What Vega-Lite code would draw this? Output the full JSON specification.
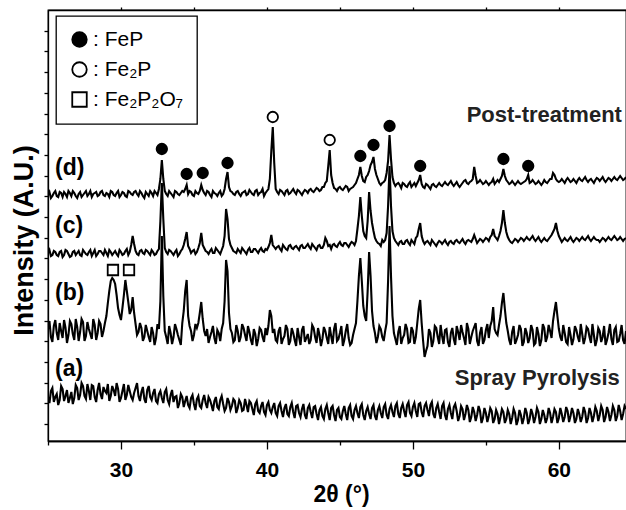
{
  "$schema": "https://vega.github.io/schema/vega-lite/v6.json",
  "width": 578,
  "height": 431,
  "autosize": {"type": "none"},
  "padding": {"left": 48, "top": 10, "right": 0, "bottom": 69},
  "background": "white",
  "config": {
    "view": {"stroke": "black", "strokeWidth": 1.3},
    "font": "Liberation Sans",
    "axis": {"grid": false, "domainColor": "black", "tickColor": "black", "labelColor": "black", "titleColor": "black", "domainWidth": 1.3, "tickWidth": 1.3, "labelFont": "Liberation Sans", "titleFont": "Liberation Sans"},
    "legend": {"strokeWidth": 1.3}
  },
  "encoding": {
    "y": {"field": "v", "type": "quantitative", "scale": {"domain": [0, 431], "nice": false, "zero": false},
      "axis": {"orient": "left", "values": [17, 37.7, 58.4, 79.1, 99.8, 120.5, 141.2, 161.9, 182.6, 203.3, 224, 244.7, 265.4, 286.1, 306.8, 327.5, 348.2, 368.9, 389.6, 410.3], "labels": false, "tickSize": 4, "title": "Intensity (A.U.)", "titleFontSize": 27, "titleFontWeight": "bold", "titlePadding": 5, "titleY": 230}}
  },
  "layer": [
    {
      "data": {"values": [
{"x":25.0,"a":44,"b":112,"c":188,"d":246},{"x":25.2,"a":50,"b":104,"c":185,"d":243},{"x":25.4,"a":39,"b":115,"c":190,"d":248},{"x":25.6,"a":47,"b":108,"c":186,"d":245},{"x":25.8,"a":41,"b":118,"c":189,"d":249},
{"x":26.0,"a":52,"b":103,"c":184,"d":244},{"x":26.2,"a":45,"b":113,"c":191,"d":247},{"x":26.4,"a":38,"b":106,"c":187,"d":250},{"x":26.6,"a":49,"b":117,"c":185,"d":245},{"x":26.8,"a":43,"b":101,"c":190,"d":248},
{"x":27.0,"a":53,"b":114,"c":188,"d":243},{"x":27.2,"a":46,"b":109,"c":186,"d":249},{"x":27.4,"a":55,"b":119,"c":191,"d":246},{"x":27.6,"a":42,"b":105,"c":187,"d":250},{"x":27.8,"a":50,"b":112,"c":189,"d":247},
{"x":28.0,"a":56,"b":102,"c":185,"d":244},{"x":28.2,"a":44,"b":116,"c":191,"d":248},{"x":28.4,"a":51,"b":108,"c":187,"d":245},{"x":28.6,"a":47,"b":117,"c":190,"d":249},{"x":28.8,"a":54,"b":110,"c":186,"d":246},
{"x":29.0,"a":48,"b":125,"c":188,"d":248},{"x":29.2,"a":40,"b":150,"c":191,"d":244},{"x":29.4,"a":55,"b":163,"c":186,"d":249},{"x":29.6,"a":45,"b":157,"c":190,"d":245},{"x":29.8,"a":52,"b":133,"c":185,"d":250},
{"x":30.0,"a":43,"b":121,"c":189,"d":246},{"x":30.2,"a":57,"b":146,"c":187,"d":248},{"x":30.3,"a":41,"b":161,"c":190,"d":245},{"x":30.4,"a":46,"b":150,"c":192,"d":244},{"x":30.6,"a":50,"b":127,"c":189,"d":249},{"x":30.8,"a":41,"b":144,"c":205,"d":246},
{"x":31.0,"a":53,"b":117,"c":190,"d":250},{"x":31.2,"a":45,"b":109,"c":186,"d":245},{"x":31.4,"a":49,"b":113,"c":191,"d":248},{"x":31.6,"a":42,"b":104,"c":187,"d":243},{"x":31.8,"a":51,"b":110,"c":190,"d":247},
{"x":32.0,"a":44,"b":99,"c":186,"d":250},{"x":32.2,"a":48,"b":108,"c":189,"d":245},{"x":32.4,"a":40,"b":103,"c":187,"d":248},{"x":32.6,"a":47,"b":112,"c":192,"d":252},{"x":32.8,"a":43,"b":205,"c":258,"d":281},
{"x":33.0,"a":49,"b":110,"c":193,"d":250},{"x":33.2,"a":41,"b":97,"c":187,"d":245},{"x":33.4,"a":46,"b":108,"c":190,"d":248},{"x":33.6,"a":39,"b":104,"c":186,"d":244},{"x":33.8,"a":45,"b":112,"c":191,"d":249},
{"x":34.0,"a":38,"b":101,"c":187,"d":246},{"x":34.2,"a":44,"b":118,"c":192,"d":250},{"x":34.4,"a":40,"b":150,"c":202,"d":252},{"x":34.5,"a":45,"b":161,"c":209,"d":256},{"x":34.6,"a":36,"b":125,"c":195,"d":247},{"x":34.8,"a":43,"b":110,"c":188,"d":249},
{"x":35.0,"a":37,"b":106,"c":191,"d":245},{"x":35.2,"a":42,"b":113,"c":189,"d":248},{"x":35.4,"a":35,"b":128,"c":198,"d":250},{"x":35.5,"a":33,"b":139,"c":208,"d":256},{"x":35.6,"a":41,"b":122,"c":196,"d":251},{"x":35.8,"a":38,"b":105,"c":190,"d":246},
{"x":36.0,"a":44,"b":98,"c":187,"d":249},{"x":36.2,"a":36,"b":109,"c":192,"d":244},{"x":36.4,"a":40,"b":103,"c":188,"d":248},{"x":36.6,"a":34,"b":111,"c":191,"d":245},{"x":36.8,"a":41,"b":100,"c":187,"d":250},
{"x":37.0,"a":37,"b":118,"c":195,"d":247},{"x":37.2,"a":33,"b":181,"c":232,"d":262},{"x":37.3,"a":43,"b":170,"c":222,"d":269},{"x":37.4,"a":39,"b":128,"c":202,"d":254},{"x":37.6,"a":35,"b":108,"c":193,"d":249},{"x":37.8,"a":40,"b":101,"c":189,"d":246},
{"x":38.0,"a":33,"b":110,"c":192,"d":250},{"x":38.2,"a":38,"b":104,"c":188,"d":245},{"x":38.4,"a":31,"b":113,"c":191,"d":249},{"x":38.6,"a":36,"b":100,"c":187,"d":246},{"x":38.8,"a":40,"b":109,"c":193,"d":251},
{"x":39.0,"a":32,"b":96,"c":189,"d":247},{"x":39.2,"a":37,"b":107,"c":192,"d":250},{"x":39.4,"a":30,"b":102,"c":188,"d":246},{"x":39.6,"a":35,"b":111,"c":193,"d":249},{"x":39.8,"a":29,"b":99,"c":189,"d":245},
{"x":40.0,"a":36,"b":106,"c":191,"d":250},{"x":40.2,"a":31,"b":131,"c":198,"d":262},{"x":40.3,"a":28,"b":125,"c":206,"d":290},{"x":40.4,"a":34,"b":108,"c":196,"d":314},{"x":40.5,"a":38,"b":112,"c":194,"d":278},{"x":40.6,"a":28,"b":101,"c":192,"d":252},{"x":40.8,"a":35,"b":110,"c":195,"d":247},
{"x":41.0,"a":30,"b":97,"c":190,"d":250},{"x":41.2,"a":33,"b":105,"c":194,"d":246},{"x":41.4,"a":27,"b":112,"c":191,"d":251},{"x":41.6,"a":34,"b":100,"c":196,"d":248},{"x":41.8,"a":29,"b":108,"c":192,"d":252},
{"x":42.0,"a":35,"b":95,"c":195,"d":247},{"x":42.2,"a":28,"b":104,"c":191,"d":250},{"x":42.4,"a":32,"b":111,"c":196,"d":246},{"x":42.6,"a":26,"b":99,"c":193,"d":251},{"x":42.8,"a":33,"b":107,"c":197,"d":248},
{"x":43.0,"a":29,"b":101,"c":192,"d":252},{"x":43.2,"a":34,"b":113,"c":195,"d":249},{"x":43.4,"a":27,"b":98,"c":191,"d":253},{"x":43.6,"a":31,"b":106,"c":196,"d":250},{"x":43.8,"a":25,"b":102,"c":193,"d":254},
{"x":44.0,"a":32,"b":110,"c":203,"d":258},{"x":44.2,"a":28,"b":97,"c":195,"d":275},{"x":44.3,"a":21,"b":114,"c":196,"d":291},{"x":44.4,"a":33,"b":105,"c":192,"d":266},{"x":44.6,"a":26,"b":112,"c":197,"d":253},{"x":44.8,"a":31,"b":100,"c":194,"d":250},
{"x":45.0,"a":24,"b":108,"c":199,"d":254},{"x":45.2,"a":30,"b":95,"c":195,"d":251},{"x":45.4,"a":27,"b":110,"c":198,"d":255},{"x":45.6,"a":33,"b":103,"c":194,"d":250},{"x":45.8,"a":25,"b":98,"c":199,"d":253},
{"x":46.0,"a":31,"b":112,"c":196,"d":256},{"x":46.2,"a":28,"b":140,"c":212,"d":262},{"x":46.4,"a":34,"b":183,"c":244,"d":274},{"x":46.6,"a":26,"b":135,"c":210,"d":260},{"x":46.8,"a":30,"b":120,"c":203,"d":264},
{"x":47.0,"a":27,"b":189,"c":249,"d":270},{"x":47.2,"a":33,"b":130,"c":218,"d":279},{"x":47.3,"a":36,"b":115,"c":210,"d":284},{"x":47.4,"a":25,"b":108,"c":203,"d":272},{"x":47.6,"a":31,"b":104,"c":198,"d":262},{"x":47.8,"a":28,"b":112,"c":195,"d":256},
{"x":48.0,"a":34,"b":100,"c":199,"d":259},{"x":48.2,"a":26,"b":118,"c":208,"d":268},{"x":48.4,"a":32,"b":215,"c":275,"d":306},{"x":48.6,"a":29,"b":125,"c":210,"d":264},{"x":48.8,"a":35,"b":102,"c":200,"d":255},
{"x":49.0,"a":27,"b":109,"c":196,"d":258},{"x":49.2,"a":33,"b":97,"c":200,"d":253},{"x":49.4,"a":30,"b":106,"c":197,"d":257},{"x":49.6,"a":36,"b":112,"c":201,"d":254},{"x":49.8,"a":28,"b":99,"c":196,"d":259},
{"x":50.0,"a":34,"b":110,"c":199,"d":256},{"x":50.2,"a":30,"b":104,"c":203,"d":255},{"x":50.4,"a":37,"b":132,"c":212,"d":261},{"x":50.5,"a":38,"b":141,"c":218,"d":266},{"x":50.6,"a":29,"b":118,"c":205,"d":257},{"x":50.8,"a":35,"b":84,"c":197,"d":253},
{"x":51.0,"a":31,"b":95,"c":200,"d":256},{"x":51.2,"a":36,"b":108,"c":196,"d":252},{"x":51.4,"a":27,"b":100,"c":199,"d":257},{"x":51.6,"a":33,"b":113,"c":195,"d":254},{"x":51.8,"a":29,"b":97,"c":200,"d":258},
{"x":52.0,"a":35,"b":105,"c":197,"d":255},{"x":52.2,"a":26,"b":111,"c":201,"d":259},{"x":52.4,"a":32,"b":99,"c":196,"d":256},{"x":52.6,"a":28,"b":108,"c":200,"d":260},{"x":52.8,"a":34,"b":102,"c":197,"d":255},
{"x":53.0,"a":30,"b":115,"c":201,"d":259},{"x":53.2,"a":25,"b":101,"c":198,"d":254},{"x":53.4,"a":32,"b":109,"c":202,"d":258},{"x":53.6,"a":27,"b":96,"c":197,"d":261},{"x":53.8,"a":31,"b":112,"c":201,"d":257},
{"x":54.0,"a":24,"b":104,"c":199,"d":260},{"x":54.2,"a":29,"b":114,"c":206,"d":274},{"x":54.4,"a":26,"b":100,"c":198,"d":258},{"x":54.6,"a":30,"b":108,"c":202,"d":261},{"x":54.8,"a":23,"b":97,"c":199,"d":257},
{"x":55.0,"a":28,"b":111,"c":203,"d":260},{"x":55.2,"a":25,"b":103,"c":200,"d":256},{"x":55.4,"a":30,"b":120,"c":206,"d":259},{"x":55.5,"a":18,"b":134,"c":212,"d":262},{"x":55.6,"a":22,"b":112,"c":205,"d":257},{"x":55.8,"a":27,"b":106,"c":201,"d":261},
{"x":56.0,"a":24,"b":125,"c":210,"d":262},{"x":56.2,"a":29,"b":148,"c":231,"d":272},{"x":56.4,"a":22,"b":118,"c":209,"d":261},{"x":56.6,"a":27,"b":101,"c":201,"d":257},{"x":56.8,"a":23,"b":109,"c":198,"d":260},
{"x":57.0,"a":28,"b":97,"c":202,"d":256},{"x":57.2,"a":21,"b":106,"c":199,"d":260},{"x":57.4,"a":26,"b":112,"c":203,"d":257},{"x":57.6,"a":23,"b":99,"c":200,"d":259},{"x":57.8,"a":28,"b":108,"c":204,"d":262},{"x":57.9,"a":17,"b":98,"c":202,"d":266},
{"x":58.0,"a":22,"b":103,"c":201,"d":258},{"x":58.2,"a":27,"b":111,"c":205,"d":261},{"x":58.4,"a":24,"b":98,"c":200,"d":257},{"x":58.6,"a":29,"b":107,"c":204,"d":260},{"x":58.8,"a":22,"b":101,"c":199,"d":256},
{"x":59.0,"a":26,"b":113,"c":203,"d":261},{"x":59.2,"a":23,"b":104,"c":200,"d":258},{"x":59.4,"a":28,"b":110,"c":204,"d":262},{"x":59.6,"a":24,"b":120,"c":209,"d":268},{"x":59.8,"a":29,"b":139,"c":218,"d":262},
{"x":60.0,"a":23,"b":112,"c":205,"d":259},{"x":60.2,"a":27,"b":100,"c":199,"d":262},{"x":60.4,"a":24,"b":108,"c":203,"d":258},{"x":60.6,"a":30,"b":97,"c":200,"d":263},{"x":60.8,"a":25,"b":106,"c":204,"d":259},
{"x":61.0,"a":28,"b":102,"c":199,"d":262},{"x":61.2,"a":22,"b":111,"c":203,"d":258},{"x":61.4,"a":27,"b":99,"c":200,"d":263},{"x":61.6,"a":24,"b":107,"c":204,"d":260},{"x":61.8,"a":29,"b":103,"c":201,"d":264},
{"x":62.0,"a":23,"b":112,"c":205,"d":259},{"x":62.2,"a":28,"b":98,"c":200,"d":262},{"x":62.4,"a":25,"b":106,"c":204,"d":258},{"x":62.6,"a":30,"b":101,"c":201,"d":263},{"x":62.8,"a":26,"b":110,"c":199,"d":260},
{"x":63.0,"a":31,"b":104,"c":203,"d":264},{"x":63.2,"a":24,"b":96,"c":200,"d":259},{"x":63.4,"a":29,"b":108,"c":204,"d":263},{"x":63.6,"a":26,"b":102,"c":201,"d":260},{"x":63.8,"a":31,"b":111,"c":205,"d":264},
{"x":64.0,"a":25,"b":99,"c":201,"d":261},{"x":64.2,"a":30,"b":107,"c":204,"d":265},{"x":64.4,"a":27,"b":101,"c":200,"d":261},{"x":64.6,"a":32,"b":110,"c":203,"d":264},
{"x":25.1,"a":38,"b":120,"c":191,"d":249},{"x":25.3,"a":53,"b":99,"c":186,"d":245},{"x":25.5,"a":44,"b":121,"c":189,"d":250},{"x":25.7,"a":36,"b":101,"c":185,"d":244},{"x":25.9,"a":55,"b":110,"c":190,"d":248},
{"x":26.1,"a":40,"b":121,"c":186,"d":249},{"x":26.3,"a":51,"b":98,"c":190,"d":244},{"x":26.5,"a":43,"b":120,"c":184,"d":248},{"x":26.7,"a":37,"b":107,"c":189,"d":250},{"x":26.9,"a":56,"b":122,"c":186,"d":245},
{"x":27.1,"a":41,"b":100,"c":190,"d":247},{"x":27.3,"a":58,"b":122,"c":185,"d":244},{"x":27.5,"a":45,"b":100,"c":189,"d":248},{"x":27.7,"a":57,"b":119,"c":186,"d":245},{"x":27.9,"a":41,"b":107,"c":191,"d":250},
{"x":28.1,"a":55,"b":122,"c":188,"d":247},{"x":28.3,"a":39,"b":101,"c":185,"d":249},{"x":28.5,"a":58,"b":120,"c":190,"d":246},{"x":28.7,"a":42,"b":104,"c":188,"d":250},{"x":28.9,"a":50,"b":118,"c":191,"d":245},
{"x":29.1,"a":57,"b":138,"c":185,"d":247},{"x":29.3,"a":45,"b":160,"c":189,"d":250},{"x":29.5,"a":51,"b":161,"c":188,"d":246},{"x":29.7,"a":58,"b":146,"c":187,"d":248},{"x":29.9,"a":39,"b":126,"c":191,"d":244},
{"x":30.1,"a":50,"b":133,"c":186,"d":249},{"x":30.5,"a":56,"b":139,"c":186,"d":250},{"x":30.7,"a":44,"b":131,"c":196,"d":247},{"x":30.9,"a":48,"b":128,"c":197,"d":249},
{"x":31.1,"a":58,"b":106,"c":187,"d":247},{"x":31.3,"a":40,"b":118,"c":190,"d":250},{"x":31.5,"a":54,"b":100,"c":188,"d":245},{"x":31.7,"a":38,"b":116,"c":191,"d":249},{"x":31.9,"a":55,"b":104,"c":188,"d":245},
{"x":32.1,"a":41,"b":114,"c":191,"d":248},{"x":32.3,"a":52,"b":96,"c":186,"d":250},{"x":32.5,"a":38,"b":117,"c":190,"d":246},{"x":32.7,"a":50,"b":140,"c":220,"d":262},{"x":32.9,"a":38,"b":145,"c":222,"d":262},
{"x":33.1,"a":52,"b":104,"c":189,"d":247},{"x":33.3,"a":37,"b":115,"c":191,"d":250},{"x":33.5,"a":51,"b":97,"c":188,"d":246},{"x":33.7,"a":44,"b":117,"c":189,"d":250},{"x":33.9,"a":33,"b":106,"c":185,"d":247},
{"x":34.1,"a":47,"b":96,"c":190,"d":248},{"x":34.3,"a":34,"b":130,"c":196,"d":249},{"x":34.7,"a":33,"b":115,"c":192,"d":250},{"x":34.9,"a":46,"b":100,"c":190,"d":246},
{"x":35.1,"a":31,"b":117,"c":187,"d":250},{"x":35.3,"a":45,"b":118,"c":193,"d":247},{"x":35.7,"a":46,"b":110,"c":193,"d":248},{"x":35.9,"a":33,"b":112,"c":189,"d":250},
{"x":36.1,"a":41,"b":104,"c":190,"d":246},{"x":36.3,"a":30,"b":115,"c":188,"d":250},{"x":36.5,"a":44,"b":97,"c":193,"d":247},{"x":36.7,"a":32,"b":108,"c":189,"d":248},{"x":36.9,"a":45,"b":112,"c":191,"d":245},
{"x":37.1,"a":30,"b":140,"c":205,"d":252},{"x":37.5,"a":31,"b":112,"c":196,"d":250},{"x":37.7,"a":42,"b":99,"c":190,"d":247},{"x":37.9,"a":28,"b":116,"c":188,"d":249},
{"x":38.1,"a":41,"b":99,"c":190,"d":247},{"x":38.3,"a":30,"b":117,"c":193,"d":248},{"x":38.5,"a":42,"b":106,"c":189,"d":250},{"x":38.7,"a":29,"b":115,"c":191,"d":247},{"x":38.9,"a":38,"b":101,"c":189,"d":249},
{"x":39.1,"a":26,"b":112,"c":192,"d":246},{"x":39.3,"a":40,"b":95,"c":190,"d":251},{"x":39.5,"a":28,"b":113,"c":191,"d":248},{"x":39.7,"a":39,"b":104,"c":190,"d":252},{"x":39.9,"a":26,"b":113,"c":192,"d":248},
{"x":40.1,"a":39,"b":115,"c":194,"d":252},{"x":40.7,"a":25,"b":99,"c":194,"d":249},{"x":40.9,"a":38,"b":114,"c":192,"d":251},
{"x":41.1,"a":24,"b":102,"c":196,"d":248},{"x":41.3,"a":37,"b":116,"c":192,"d":250},{"x":41.5,"a":25,"b":96,"c":195,"d":247},{"x":41.7,"a":38,"b":113,"c":193,"d":250},{"x":41.9,"a":23,"b":101,"c":194,"d":249},
{"x":42.1,"a":36,"b":113,"c":193,"d":251},{"x":42.3,"a":24,"b":96,"c":195,"d":248},{"x":42.5,"a":37,"b":115,"c":193,"d":249},{"x":42.7,"a":22,"b":103,"c":195,"d":250},{"x":42.9,"a":36,"b":97,"c":194,"d":251},
{"x":43.1,"a":23,"b":116,"c":197,"d":250},{"x":43.3,"a":35,"b":104,"c":193,"d":251},{"x":43.5,"a":21,"b":113,"c":195,"d":252},{"x":43.7,"a":34,"b":95,"c":193,"d":251},{"x":43.9,"a":22,"b":114,"c":196,"d":254},
{"x":44.1,"a":36,"b":103,"c":200,"d":260},{"x":44.5,"a":35,"b":97,"c":196,"d":258},{"x":44.7,"a":20,"b":118,"c":195,"d":252},{"x":44.9,"a":33,"b":102,"c":197,"d":253},
{"x":45.1,"a":22,"b":115,"c":196,"d":252},{"x":45.3,"a":35,"b":101,"c":198,"d":253},{"x":45.5,"a":21,"b":117,"c":196,"d":254},{"x":45.7,"a":36,"b":96,"c":197,"d":252},{"x":45.9,"a":22,"b":106,"c":198,"d":254},
{"x":46.1,"a":35,"b":118,"c":200,"d":258},{"x":46.3,"a":23,"b":165,"c":225,"d":266},{"x":46.5,"a":37,"b":160,"c":225,"d":265},{"x":46.7,"a":21,"b":125,"c":205,"d":259},{"x":46.9,"a":34,"b":150,"c":220,"d":266},
{"x":47.1,"a":22,"b":165,"c":230,"d":276},{"x":47.5,"a":21,"b":98,"c":200,"d":266},{"x":47.7,"a":35,"b":115,"c":197,"d":258},{"x":47.9,"a":23,"b":104,"c":201,"d":258},
{"x":48.1,"a":37,"b":110,"c":201,"d":261},{"x":48.3,"a":22,"b":160,"c":235,"d":280},{"x":48.5,"a":36,"b":165,"c":235,"d":282},{"x":48.7,"a":24,"b":108,"c":203,"d":258},{"x":48.9,"a":38,"b":96,"c":198,"d":257},
{"x":49.1,"a":23,"b":115,"c":199,"d":256},{"x":49.3,"a":37,"b":103,"c":197,"d":258},{"x":49.5,"a":24,"b":117,"c":200,"d":255},{"x":49.7,"a":39,"b":98,"c":198,"d":257},{"x":49.9,"a":25,"b":114,"c":201,"d":254},
{"x":50.1,"a":38,"b":97,"c":197,"d":258},{"x":50.3,"a":24,"b":118,"c":205,"d":258},{"x":50.7,"a":24,"b":100,"c":200,"d":254},{"x":50.9,"a":38,"b":90,"c":199,"d":257},
{"x":51.1,"a":25,"b":112,"c":198,"d":254},{"x":51.3,"a":39,"b":94,"c":201,"d":256},{"x":51.5,"a":23,"b":115,"c":197,"d":255},{"x":51.7,"a":37,"b":104,"c":198,"d":256},{"x":51.9,"a":22,"b":116,"c":199,"d":256},
{"x":52.1,"a":38,"b":97,"c":199,"d":257},{"x":52.3,"a":21,"b":112,"c":198,"d":257},{"x":52.5,"a":36,"b":94,"c":199,"d":258},{"x":52.7,"a":22,"b":113,"c":198,"d":257},{"x":52.9,"a":37,"b":96,"c":200,"d":257},
{"x":53.1,"a":20,"b":109,"c":199,"d":256},{"x":53.3,"a":35,"b":116,"c":200,"d":256},{"x":53.5,"a":21,"b":103,"c":199,"d":260},{"x":53.7,"a":36,"b":118,"c":200,"d":258},{"x":53.9,"a":19,"b":97,"c":200,"d":259},
{"x":54.1,"a":34,"b":110,"c":202,"d":262},{"x":54.3,"a":20,"b":118,"c":202,"d":265},{"x":54.5,"a":35,"b":95,"c":200,"d":259},{"x":54.7,"a":18,"b":114,"c":201,"d":259},{"x":54.9,"a":33,"b":101,"c":201,"d":258},
{"x":55.1,"a":19,"b":117,"c":202,"d":258},{"x":55.3,"a":33,"b":115,"c":204,"d":258},{"x":55.7,"a":31,"b":108,"c":203,"d":259},{"x":55.9,"a":17,"b":116,"c":205,"d":259},
{"x":56.1,"a":32,"b":138,"c":218,"d":265},{"x":56.3,"a":18,"b":132,"c":218,"d":265},{"x":56.5,"a":31,"b":110,"c":204,"d":259},{"x":56.7,"a":17,"b":96,"c":199,"d":258},{"x":56.9,"a":32,"b":115,"c":200,"d":258},
{"x":57.1,"a":16,"b":101,"c":201,"d":258},{"x":57.3,"a":31,"b":116,"c":201,"d":258},{"x":57.5,"a":17,"b":95,"c":202,"d":258},{"x":57.7,"a":33,"b":113,"c":202,"d":260},
{"x":58.1,"a":32,"b":116,"c":203,"d":259},{"x":58.3,"a":18,"b":96,"c":202,"d":259},{"x":58.5,"a":33,"b":114,"c":202,"d":258},{"x":58.7,"a":17,"b":95,"c":201,"d":258},{"x":58.9,"a":31,"b":117,"c":201,"d":258},
{"x":59.1,"a":18,"b":99,"c":201,"d":259},{"x":59.3,"a":33,"b":116,"c":202,"d":260},{"x":59.5,"a":18,"b":103,"c":206,"d":262},{"x":59.7,"a":32,"b":130,"c":212,"d":266},{"x":59.9,"a":18,"b":125,"c":210,"d":260},
{"x":60.1,"a":33,"b":104,"c":202,"d":260},{"x":60.3,"a":19,"b":116,"c":201,"d":260},{"x":60.5,"a":34,"b":99,"c":201,"d":261},{"x":60.7,"a":19,"b":114,"c":202,"d":261},{"x":60.9,"a":33,"b":96,"c":201,"d":260},
{"x":61.1,"a":18,"b":115,"c":201,"d":260},{"x":61.3,"a":32,"b":104,"c":202,"d":261},{"x":61.5,"a":19,"b":117,"c":202,"d":261},{"x":61.7,"a":34,"b":97,"c":202,"d":262},{"x":61.9,"a":18,"b":114,"c":203,"d":261},
{"x":62.1,"a":33,"b":104,"c":202,"d":261},{"x":62.3,"a":19,"b":117,"c":202,"d":260},{"x":62.5,"a":34,"b":95,"c":202,"d":261},{"x":62.7,"a":20,"b":113,"c":201,"d":262},{"x":62.9,"a":35,"b":99,"c":201,"d":262},
{"x":63.1,"a":19,"b":115,"c":202,"d":261},{"x":63.3,"a":34,"b":101,"c":202,"d":261},{"x":63.5,"a":20,"b":117,"c":202,"d":262},{"x":63.7,"a":35,"b":96,"c":203,"d":262},{"x":63.9,"a":20,"b":114,"c":203,"d":262},
{"x":64.1,"a":36,"b":100,"c":202,"d":263},{"x":64.3,"a":21,"b":116,"c":202,"d":263},{"x":64.5,"a":35,"b":97,"c":202,"d":262}
      ]},
      "transform": [
        {"fold": ["a", "b", "c", "d"], "as": ["series", "v"]},
        {"filter": {"field": "v", "valid": true}}
      ],
      "mark": {"type": "line", "color": "black", "strokeWidth": 2.1, "clip": true},
      "encoding": {
        "x": {"field": "x", "type": "quantitative", "scale": {"domain": [25, 64.6], "nice": false, "zero": false},
          "axis": {"orient": "bottom", "values": [30, 40, 50, 60], "tickSize": 8, "labelFontSize": 21, "labelFontWeight": "bold", "labelPadding": 10, "title": "2θ (°)", "titleFontSize": 23, "titleFontWeight": "bold", "titlePadding": 3, "titleX": 293}},
        "detail": {"field": "series", "type": "nominal"}
      }
    },
    {
      "data": {"values": [
        {"x": 32.8, "v": 292, "phase": "FeP"},
        {"x": 34.5, "v": 267, "phase": "FeP"},
        {"x": 35.6, "v": 268, "phase": "FeP"},
        {"x": 37.3, "v": 278, "phase": "FeP"},
        {"x": 46.4, "v": 285, "phase": "FeP"},
        {"x": 47.3, "v": 296, "phase": "FeP"},
        {"x": 48.4, "v": 315, "phase": "FeP"},
        {"x": 50.5, "v": 275, "phase": "FeP"},
        {"x": 56.2, "v": 282, "phase": "FeP"},
        {"x": 57.9, "v": 275, "phase": "FeP"},
        {"x": 40.4, "v": 324, "phase": "Fe2P"},
        {"x": 44.3, "v": 301, "phase": "Fe2P"},
        {"x": 29.45, "v": 171, "phase": "Fe2P2O7"},
        {"x": 30.55, "v": 171, "phase": "Fe2P2O7"}
      ]},
      "mark": {"type": "point", "stroke": "black", "strokeWidth": 1.8, "size": 110, "opacity": 1},
      "encoding": {
        "x": {"field": "x", "type": "quantitative",
          "axis": {"orient": "bottom", "values": [25, 35, 45, 55], "tickSize": 4, "labels": false, "title": null}},
        "shape": {"field": "phase", "type": "nominal", "scale": {"domain": ["FeP", "Fe2P", "Fe2P2O7"], "range": ["circle", "circle", "square"]}},
        "fill": {"field": "phase", "type": "nominal", "scale": {"domain": ["FeP", "Fe2P", "Fe2P2O7"], "range": ["black", "white", "white"]},
          "legend": {"orient": "none", "legendX": 8, "legendY": 6, "title": null, "padding": 13, "strokeColor": "black", "fillColor": "white", "labelFont": "Liberation Sans", "labelFontSize": 21, "labelColor": "black", "symbolStrokeColor": "black", "symbolStrokeWidth": 1.8, "symbolSize": 210, "rowPadding": 7, "labelOffset": 3,
            "labelExpr": "datum.label == 'FeP' ? ': FeP' : datum.label == 'Fe2P' ? ': Fe₂P' : ': Fe₂P₂O₇'"}}
      }
    },
    {
      "data": {"values": [
        {"x": 25.48, "v": 273, "t": "(d)"},
        {"x": 25.48, "v": 215, "t": "(c)"},
        {"x": 25.48, "v": 148, "t": "(b)"},
        {"x": 25.48, "v": 72, "t": "(a)"}
      ]},
      "mark": {"type": "text", "align": "left", "baseline": "middle", "fontSize": 23, "fontWeight": "bold", "font": "Liberation Sans", "color": "black"},
      "encoding": {
        "x": {"field": "x", "type": "quantitative",
          "axis": {"orient": "top", "values": [30, 35, 40, 45, 50, 55, 60], "tickSize": 3, "labels": false, "title": null}},
        "text": {"field": "t"}
      }
    },
    {
      "data": {"values": [
        {"x": 64.32, "v": 326, "t": "Post-treatment"},
        {"x": 64.18, "v": 63, "t": "Spray Pyrolysis"}
      ]},
      "mark": {"type": "text", "align": "right", "baseline": "middle", "fontSize": 22, "fontWeight": "bold", "font": "Liberation Sans", "color": "#222"},
      "encoding": {
        "x": {"field": "x", "type": "quantitative", "axis": null},
        "text": {"field": "t"}
      }
    }
  ],
  "resolve": {"axis": {"x": "independent"}}
}
